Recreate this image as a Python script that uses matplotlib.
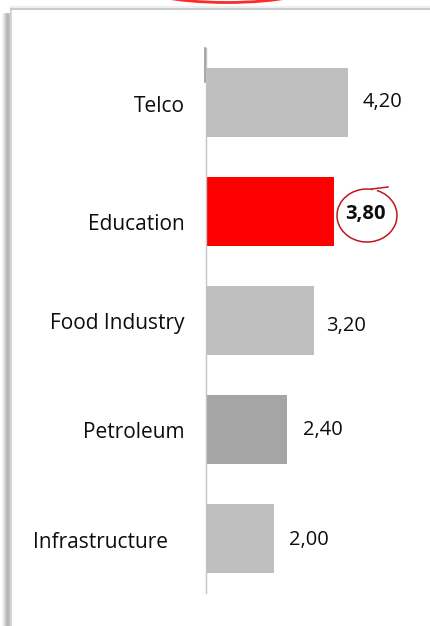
import matplotlib.pyplot as plt
from matplotlib.patches import Ellipse, Arc
from matplotlib.lines import Line2D

# data
categories = ["Telco", "Education", "Food Industry", "Petroleum", "Infrastructure"]
values = [4.20, 3.80, 3.20, 2.40, 2.00]
labels = ["4,20", "3,80", "3,20", "2,40", "2,00"]
colors = ["#bfbfbf", "#ff0000", "#bfbfbf", "#a5a5a5", "#bfbfbf"]

# label nudges in pixels (the source chart is not perfectly aligned)
cat_offsets = [(-21, -4), (-21, -13.5), (-21, -3), (-21, -3.5), (-38, -4)]
val_offsets = [(15, 1), (11, -2.5), (12, -5), (16, -1), (15, -2)]

W, H = 431, 626
fig = plt.figure(figsize=(W / 100, H / 100), dpi=100)
fig.patch.set_facecolor("white")

def fx(px):
    return px / W

def fy(py):
    return 1 - py / H

# panel frame + shadow on the left
shade = ["#f4f4f4", "#e8e8e8", "#d8d8d8", "#c6c6c6", "#b8b8b8", "#b0b0b0", "#b4b4b4", "#c4c4c4"]
for i, g in enumerate(shade):
    x = 3.5 + i
    fig.add_artist(Line2D([fx(x), fx(x)], [fy(14), fy(626)], color=g, lw=1.1))
fig.add_artist(Line2D([fx(11.5), fx(11.5)], [fy(8), fy(626)], color="#d2d2d2", lw=1.3))
fig.add_artist(Line2D([fx(11.5), fx(431)], [fy(8.5), fy(8.5)], color="#c8c8c8", lw=1.4))
fig.add_artist(Line2D([fx(11.5), fx(431)], [fy(6.8), fy(6.8)], color="#ececec", lw=1.2))

# red arc peeking in from above
fig.add_artist(Ellipse((fx(227), fy(-17.5)), fx(190), 40 / H, fill=False,
                       edgecolor="#ff2a2a", lw=2, transform=fig.transFigure))

ax = fig.add_axes([fx(206), fy(593), fx(426) - fx(206), (593 - 48) / H])
ypos = list(range(len(categories)))
ax.barh(ypos, values, height=0.63, color=colors)
ax.set_xlim(0, 220 / 33.8)
ax.set_ylim(4.5, -0.5)
ax.set_yticks([])
ax.set_xticks([])
for s in ["top", "right", "bottom"]:
    ax.spines[s].set_visible(False)
ax.spines["left"].set_color("#c4c4c4")
ax.spines["left"].set_linewidth(1)
# darker stub at the top of the axis line
fig.add_artist(Line2D([fx(204.8), fx(204.8)], [fy(48), fy(82)], color="#9a9a9a", lw=1.2))

for i, (cat, off) in enumerate(zip(categories, cat_offsets)):
    ax.annotate(cat, (0, i), xytext=off, textcoords="offset pixels",
                ha="right", va="center", fontsize=15, family="Open Sans",
                color="#0d0d0d", annotation_clip=False)

for i, (v, lab, off) in enumerate(zip(values, labels, val_offsets)):
    ax.annotate(lab, (v, i), xytext=off, textcoords="offset pixels",
                ha="left", va="center", fontsize=14.5, family="Open Sans",
                fontweight="bold" if i == 1 else "normal", color="#0d0d0d")

# hand-drawn circle round the highlighted value
fig.add_artist(Arc((fx(367), fy(215.5)), fx(60), 53 / H, theta1=72, theta2=420,
                   edgecolor="#c0161c", lw=1.1, transform=fig.transFigure))
fig.add_artist(Line2D([fx(372), fx(388)], [fy(189), fy(187)], color="#c0161c", lw=1.1))

fig.savefig("out.png", dpi=100)
